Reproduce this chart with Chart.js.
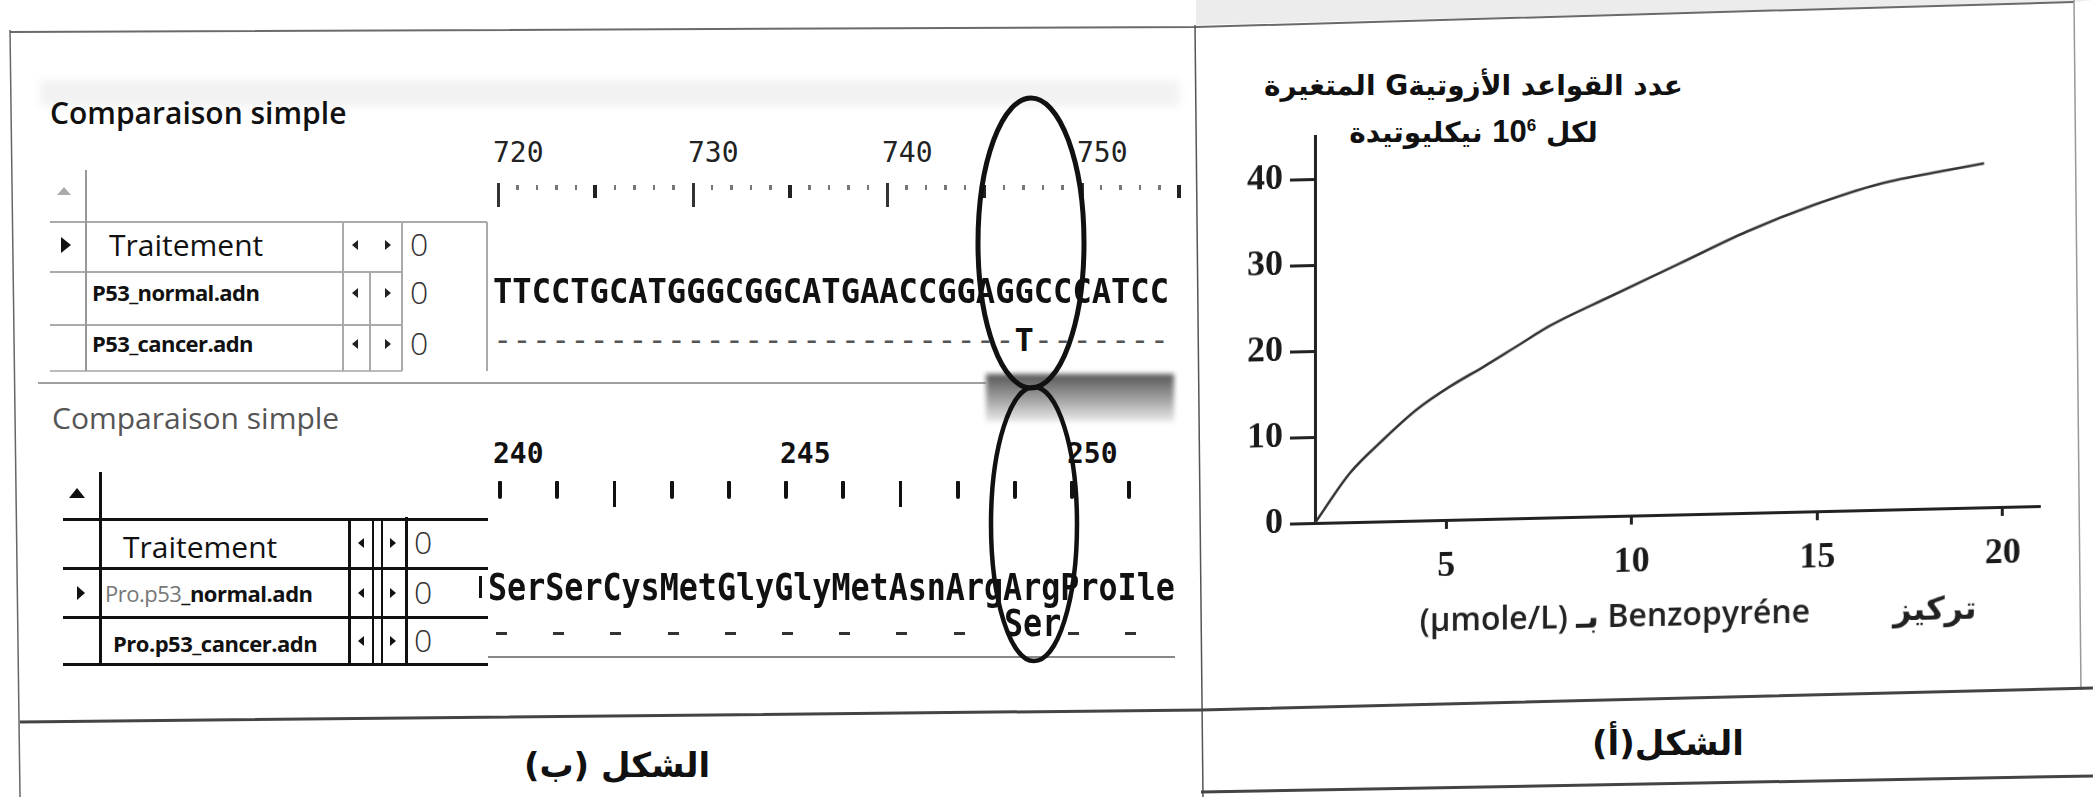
<!DOCTYPE html>
<html><head><meta charset="utf-8">
<script src="https://cdn.jsdelivr.net/npm/chart.js@4.4.1/dist/chart.umd.min.js"></script>
<style>
html,body{margin:0;padding:0;background:#fff;}
#page{position:relative;width:2093px;height:797px;overflow:hidden;background:#fff;font-family:'Open Sans','DejaVu Sans',sans-serif;color:#111;}
.a{position:absolute;white-space:nowrap;line-height:1;}
.mono{font-family:'DejaVu Sans Mono',monospace;}
.ln{position:absolute;}
.ar{font-family:'DejaVu Sans',sans-serif;font-weight:bold;direction:rtl;unicode-bidi:isolate;}
</style></head><body><div id="page">

<svg width="2093" height="797" style="position:absolute;left:0;top:0">
  <polygon points="1196,0 2093,0 2093,0 2074,2 1196,25" fill="#ececec"/>
  <polyline points="10,32 1196,27 2074,2" fill="none" stroke="#6a6a6a" stroke-width="2"/>
  <line x1="10" y1="30" x2="20" y2="797" stroke="#666" stroke-width="1.5"/>
  <line x1="1195" y1="25" x2="1203" y2="797" stroke="#555" stroke-width="1.5"/>
  <line x1="2074" y1="0" x2="2081" y2="690" stroke="#999" stroke-width="1.5"/>
  <polyline points="20,722 1201,710 2093,688" fill="none" stroke="#444" stroke-width="3"/>
  <polyline points="1201,792 2093,776" fill="none" stroke="#444" stroke-width="3"/>
</svg>

<!-- ===== left panel, upper block ===== -->
<div class="ln" style="left:40px;top:80px;width:1140px;height:26px;background:#f2f2f2;filter:blur(4px)"></div>
<div class="a" style="left:50px;top:98px;font-size:30px;font-weight:600;">Comparaison simple</div>
<div class="ln" style="left:57px;top:187px;width:0;height:0;border-left:7px solid transparent;border-right:7px solid transparent;border-bottom:8px solid #aaa"></div>
<div class="ln" style="left:61px;top:237px;width:0;height:0;border-top:8px solid transparent;border-bottom:8px solid transparent;border-left:10px solid #111"></div>

<div class="ln" style="left:50px;top:221px;width:437px;height:2px;background:#aaa"></div>
<div class="ln" style="left:50px;top:271px;width:352px;height:2px;background:#aaa"></div>
<div class="ln" style="left:50px;top:324px;width:352px;height:2px;background:#aaa"></div>
<div class="ln" style="left:50px;top:370px;width:352px;height:2px;background:#bbb"></div>
<div class="ln" style="left:85px;top:170px;width:2px;height:201px;background:#999"></div>
<div class="ln" style="left:342px;top:222px;width:2px;height:149px;background:#aaa"></div>
<div class="ln" style="left:369px;top:272px;width:2px;height:99px;background:#aaa"></div>
<div class="ln" style="left:401px;top:222px;width:2px;height:149px;background:#aaa"></div>
<div class="ln" style="left:486px;top:222px;width:2px;height:149px;background:#aaa"></div>

<div class="a" style="left:109px;top:230px;font-size:30px;">Traitement</div>
<div class="a" style="left:92px;top:281px;font-size:22px;font-weight:bold;letter-spacing:-0.6px;">P53_normal.adn</div>
<div class="a" style="left:92px;top:332px;font-size:22px;font-weight:bold;letter-spacing:-0.6px;">P53_cancer.adn</div>

<div class="a mono" style="left:493px;top:139px;font-size:28px;color:#222">720</div>
<div class="a mono" style="left:688px;top:139px;font-size:28px;color:#222">730</div>
<div class="a mono" style="left:882px;top:139px;font-size:28px;color:#222">740</div>
<div class="a mono" style="left:1077px;top:139px;font-size:28px;color:#222">750</div>
<div class="a mono" style="left:493px;top:275px;font-size:32.1px;font-weight:bold;transform:scaleY(1.07);">TTCCTGCATGGGCGGCATGAACCGGAGGCCCATCC</div>
<div class="a mono" style="left:493px;top:324px;font-size:32.1px;color:#555;">---------------------------<b style="color:#111">T</b>-------</div>

<!-- ===== left panel, lower block ===== -->
<div class="ln" style="left:38px;top:382px;width:948px;height:2px;background:#a0a0a0"></div>
<div class="ln" style="left:986px;top:374px;width:188px;height:48px;background:linear-gradient(#555,#a5a5a5 55%,#ececec);filter:blur(2.5px)"></div>
<div class="a" style="left:52px;top:403px;font-size:30px;color:#555;">Comparaison simple</div>
<div class="ln" style="left:69px;top:488px;width:0;height:0;border-left:8px solid transparent;border-right:8px solid transparent;border-bottom:10px solid #111"></div>
<div class="ln" style="left:77px;top:586px;width:0;height:0;border-top:7px solid transparent;border-bottom:7px solid transparent;border-left:8px solid #111"></div>

<div class="ln" style="left:99px;top:472px;width:3px;height:194px;background:#111"></div>
<div class="ln" style="left:63px;top:518px;width:425px;height:3px;background:#111"></div>
<div class="ln" style="left:63px;top:567px;width:425px;height:3px;background:#111"></div>
<div class="ln" style="left:63px;top:616px;width:425px;height:3px;background:#111"></div>
<div class="ln" style="left:63px;top:663px;width:425px;height:3px;background:#111"></div>
<div class="ln" style="left:348px;top:519px;width:3px;height:146px;background:#111"></div>
<div class="ln" style="left:372px;top:519px;width:2px;height:146px;background:#111"></div>
<div class="ln" style="left:381px;top:519px;width:2px;height:146px;background:#111"></div>
<div class="ln" style="left:405px;top:517px;width:3px;height:148px;background:#111"></div>
<div class="ln" style="left:488px;top:656px;width:687px;height:2px;background:#888"></div>

<div class="a" style="left:123px;top:532px;font-size:30px;">Traitement</div>
<div class="a" style="left:105px;top:582px;font-size:22px;letter-spacing:-0.5px;"><span style="color:#777">Pro.p53</span><b>_normal.adn</b></div>
<div class="a" style="left:113px;top:632px;font-size:22px;font-weight:bold;letter-spacing:-0.5px;">Pro.p53_cancer.adn</div>

<div class="a mono" style="left:493px;top:440px;font-size:28px;font-weight:bold;">240</div>
<div class="a mono" style="left:780px;top:440px;font-size:28px;font-weight:bold;">245</div>
<div class="a mono" style="left:1067px;top:440px;font-size:28px;font-weight:bold;">250</div>
<div class="ln" style="left:479px;top:576px;width:3px;height:22px;background:#111"></div>
<div class="a mono" style="left:488px;top:572px;font-size:31.7px;font-weight:bold;transform:scaleY(1.15);">SerSerCysMetGlyGlyMetAsnArgArgProIle</div>
<div class="a mono" style="left:1004px;top:608px;font-size:31.7px;font-weight:bold;transform:scaleY(1.15);">Ser</div>

<div id="deco"></div>

<svg width="2093" height="797" style="position:absolute;left:0;top:0;z-index:2">
  <ellipse cx="1031" cy="243" rx="53" ry="145" fill="none" stroke="#111" stroke-width="5"/>
  <ellipse cx="1034" cy="524" rx="43" ry="137" fill="none" stroke="#111" stroke-width="4.5"/>
</svg>

<!-- ===== right panel ===== -->
<div class="a ar" style="left:1253px;top:72px;width:441px;text-align:center;font-size:28px;">عدد القواعد الأزوتيةG المتغيرة</div>
<div class="a ar" style="left:1253px;top:116px;width:441px;text-align:center;font-size:28px;">لكل <span style="font-family:'Liberation Sans';font-size:31px">10<sup style="font-size:17px">6</sup></span> نيكليوتيدة</div>

<div id="chartBox" style="position:absolute;left:1200px;top:100px;width:880px;height:560px;transform-origin:115px 423px;transform:skewY(-1.34deg);">
  <canvas id="c" width="880" height="560" dir="rtl" style="width:880px;height:560px;"></canvas>
</div>

<div class="a ar" style="left:517px;top:748px;width:200px;text-align:center;font-size:34px;">الشكل (ب)</div>
<div class="a ar" style="left:1568px;top:726px;width:200px;text-align:center;font-size:34px;">الشكل(أ)</div>

</div>
<script>
// ---- chart data ----
const concentration = [1.46, 2.4, 3.3, 4.2, 5.1, 6.0, 6.9, 7.8, 9.4, 11.3, 13.1, 14.9, 16.7, 18.5, 19.5];
const alteredG      = [0, 5.7, 9.5, 12.9, 15.5, 17.7, 20.0, 22.3, 25.5, 29.2, 32.7, 35.6, 37.9, 39.3, 40.0];
const xTickValues = [5, 10, 15, 20];
const yTickValues = [0, 10, 20, 30, 40];
const xTitle = 'تركيز          Benzopyréne بـ (μmole/L)\u00a0\u00a0\u00a0\u00a0\u00a0';

// ---- decorative parts of the sequence-comparison screenshot ----
const page = document.getElementById('deco');
function box(x, y, w, h, css) {
  const d = document.createElement('div');
  d.className = 'ln';
  d.style.cssText += `left:${x}px;top:${y}px;width:${w}px;height:${h}px;` + (css || '');
  page.appendChild(d);
}
function tri(x, y, dir, w, h, col) {
  const side = dir === 'l' ? 'border-right' : 'border-left';
  box(x, y, 0, 0, `border-top:${h/2}px solid transparent;border-bottom:${h/2}px solid transparent;${side}:${w}px solid ${col};`);
}
function zero(x, yc) {
  const d = document.createElement('div');
  d.className = 'a';
  d.style.cssText = `left:${x}px;top:${yc-17}px;font-size:32px;font-weight:300;color:#333;`;
  d.textContent = '0';
  page.appendChild(d);
}
[245, 293, 344].forEach(yc => { tri(352, yc-5, 'l', 6, 10, '#222'); tri(385, yc-5, 'r', 6, 10, '#222'); zero(410, yc); });
[543, 593, 641].forEach(yc => { tri(358, yc-5, 'l', 6, 10, '#111'); tri(390, yc-5, 'r', 6, 10, '#111'); zero(414, yc); });
for (let p = 0; p <= 35; p++) {
  const x = 498 + 19.45 * p;
  if (p % 10 === 0) box(x - 1, 183, 3, 24, 'background:#333;');
  else if (p % 5 === 0) box(x - 2, 185, 4, 13, 'background:#222;');
  else box(x - 1, 185, 2.5, 5, 'background:#777;');
}
for (let k = 0; k < 12; k++) {
  const x = 500 + 57.2 * k;
  if (k === 2 || k === 7) box(x - 1.5, 481, 3, 26, 'background:#111;');
  else box(x - 2, 481, 4, 18, 'background:#111;border-radius:1px 1px 2px 2px;');
  if (k !== 9) box(x - 4, 632, 11, 3, 'background:#333;');
}

// ---- chart ----
new Chart(document.getElementById('c'), {
  type: 'line',
  data: {
    datasets: [{
      data: concentration.map((x, i) => ({ x: x, y: alteredG[i] })),
      borderColor: '#333',
      borderWidth: 2.6,
      pointRadius: 0,
      fill: false,
      cubicInterpolationMode: 'monotone'
    }]
  },
  options: {
    responsive: false,
    animation: false,
    layout: { padding: { left: 0, right: 40, top: 36, bottom: 0 } },
    plugins: { legend: { display: false }, tooltip: { enabled: false }, title: { display: false } },
    scales: {
      x: {
        type: 'linear', min: 1.46, max: 21,
        afterBuildTicks: s => { s.ticks = xTickValues.map(v => ({ value: v })); },
        afterFit: s => { s.height = 137; },
        border: { display: true, width: 3, color: '#222' },
        grid: { display: true, drawOnChartArea: false, drawTicks: true, tickLength: 9, tickWidth: 3, tickColor: '#222' },
        ticks: { font: { family: "'Liberation Serif'", size: 36, weight: 'bold' }, color: '#1a1a1a', padding: 16, maxRotation: 0 },
        title: { display: true, text: xTitle, font: { family: "'Open Sans', 'DejaVu Sans'", size: 32, weight: '600' }, color: '#222', padding: { top: 0, bottom: 16 } }
      },
      y: {
        type: 'linear', min: 0, max: 45,
        afterBuildTicks: s => { s.ticks = yTickValues.map(v => ({ value: v })); },
        afterFit: s => { s.width = 115; },
        border: { display: true, width: 3, color: '#222' },
        grid: { display: true, drawOnChartArea: false, drawTicks: true, tickLength: 25, tickWidth: 3, tickColor: '#222' },
        ticks: { font: { family: "'Liberation Serif'", size: 36, weight: 'bold' }, color: '#1a1a1a', padding: 7 }
      }
    }
  }
});
</script>
</body></html>
